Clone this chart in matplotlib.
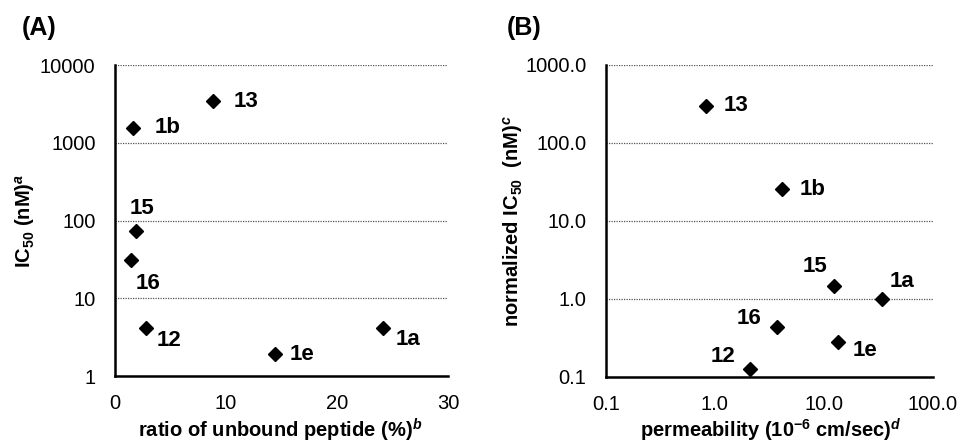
import matplotlib.pyplot as plt
from matplotlib.ticker import FixedLocator, NullLocator

plt.rcParams['font.family'] = ['Liberation Sans', 'DejaVu Sans']
plt.rcParams['mathtext.fontset'] = 'custom'
plt.rcParams['mathtext.rm'] = 'Liberation Sans:bold'
plt.rcParams['mathtext.bf'] = 'Liberation Sans:bold'
plt.rcParams['mathtext.it'] = 'Liberation Sans:italic:bold'

# Panel A: unbound ratio vs IC50
names = ['13', '1b', '15', '16', '12', '1e', '1a']
unbound = [8.8, 1.6, 1.9, 1.4, 2.8, 14.4, 24.1]
ic50 = [3400, 1550, 74, 31, 4.2, 1.9, 4.2]

# Panel B: permeability vs normalized IC50
perm = [0.82, 4.1, 12.4, 3.7, 2.1, 13.4, 34]
norm_ic50 = [298, 25.6, 1.47, 0.44, 0.124, 0.275, 1.0]

# label offsets in pixels (dx, dy), text centred
offs_a = {'13': (33, 0), '1b': (35, 0), '15': (6, 22), '16': (17, -23),
          '12': (23, -13), '1e': (27, 0), '1a': (25, -12)}
offs_b = {'13': (30, 0), '1b': (31, 0), '15': (-19, 19), '16': (-28, 8),
          '12': (-27, 13), '1e': (27, -8), '1a': (20, 17)}

fig = plt.figure(figsize=(9.6, 4.44), dpi=100)
ax1 = fig.add_axes([115 / 960, 1 - 376 / 444, 333 / 960, 311 / 444])
ax2 = fig.add_axes([606 / 960, 1 - 376.7 / 444, 326.7 / 960, 311.7 / 444])


def style(ax):
    for s in ['top', 'right']:
        ax.spines[s].set_visible(False)
    for s in ['left', 'bottom']:
        ax.spines[s].set_linewidth(1.8)
        ax.spines[s].set_zorder(4)
    ax.tick_params(length=0, labelsize=14.5)
    ax.tick_params(axis='y', pad=14)
    ax.tick_params(axis='x', pad=13)
    ax.yaxis.set_minor_locator(NullLocator())
    ax.xaxis.set_minor_locator(NullLocator())
    ax.grid(axis='y', linestyle=(0, (1, 1)), color='#555555', linewidth=0.9)
    ax.set_axisbelow(True)


def label_points(ax, xs, ys, offs):
    for n, x, y in zip(names, xs, ys):
        dx, dy = offs[n]
        ax.annotate(n, (x, y), xytext=(dx * 0.72, dy * 0.72), textcoords='offset points',
                    ha='center', va='center', fontsize=16, fontweight='bold')


def axis_labels(ax, xl, yl, xpos, ypos):
    ax.set_xlabel(xl, fontsize=14.5, fontweight='bold', va='baseline')
    ax.xaxis.set_label_coords(*xpos)
    ax.set_ylabel(yl, fontsize=14.5, fontweight='bold', va='center')
    ax.yaxis.set_label_coords(*ypos)


# ---- (A)
ax1.plot(unbound, ic50, 'D', color='black', markersize=7, linestyle='none', zorder=5)
ax1.set_yscale('log')
ax1.set_ylim(1, 10000)
ax1.set_xlim(0, 30)
style(ax1)
ax1.yaxis.set_major_locator(FixedLocator([1, 10, 100, 1000, 10000]))
ax1.set_yticklabels(['1', '10', '100', '1000', '10000'])
ax1.set_xticks([0, 10, 20, 30])
label_points(ax1, unbound, ic50, offs_a)
axis_labels(ax1, r'ratio of unbound peptide (%)$^{\mathit{b}}$',
            r'IC$_{\mathbf{50}}$ (nM)$^{\mathit{a}}$',
            (0.495, (376 - 437) / 311), ((25 - 115) / 333, 0.5))
fig.text(22 / 960, 1 - 28 / 444, '(A)', fontsize=18, fontweight='bold', va='center', ha='left')

# ---- (B)
ax2.plot(perm, norm_ic50, 'D', color='black', markersize=7, linestyle='none', zorder=5)
ax2.set_xscale('log')
ax2.set_yscale('log')
ax2.set_xlim(0.1, 100)
ax2.set_ylim(0.1, 1000)
style(ax2)
ax2.yaxis.set_major_locator(FixedLocator([0.1, 1, 10, 100, 1000]))
ax2.set_yticklabels(['0.1', '1.0', '10.0', '100.0', '1000.0'])
ax2.xaxis.set_major_locator(FixedLocator([0.1, 1, 10, 100]))
ax2.set_xticklabels(['0.1', '1.0', '10.0', '100.0'])
label_points(ax2, perm, norm_ic50, offs_b)
axis_labels(ax2, r'permeability (10$^{\mathbf{-6}}$ cm/sec)$^{\mathit{d}}$',
            r'normalized IC$_{\mathbf{50}}$  (nM)$^{\mathit{c}}$',
            ((771 - 606) / 326.7, (376.7 - 437) / 311.7), ((513 - 606) / 326.7, 0.5))
fig.text(507 / 960, 1 - 28 / 444, '(B)', fontsize=18, fontweight='bold', va='center', ha='left')

fig.savefig('out.png', dpi=100)
